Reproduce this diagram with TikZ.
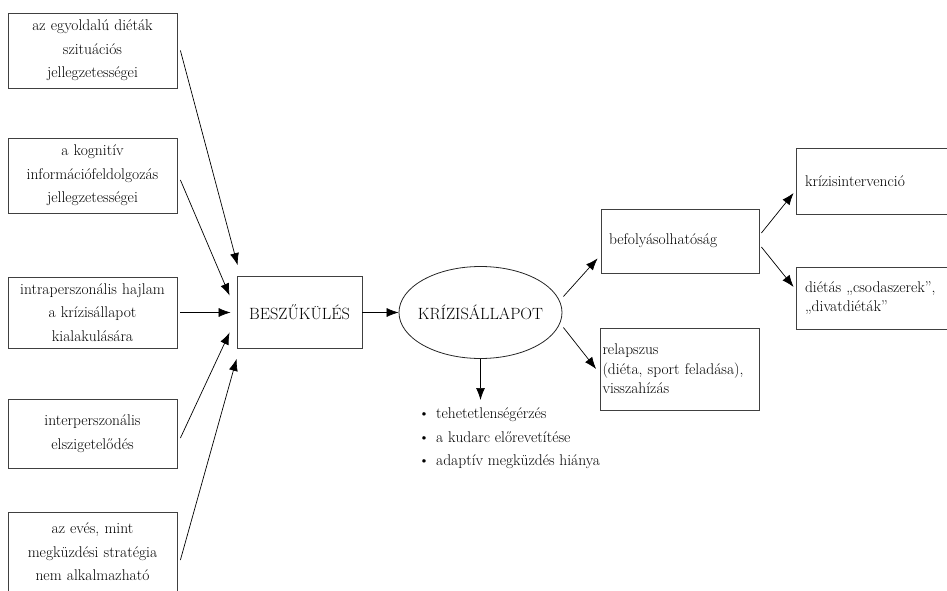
\documentclass[tikz,border=0pt]{standalone}
\usepackage{fontspec}
\usetikzlibrary{arrows.meta,shapes.geometric}
\begin{document}
\begin{tikzpicture}[x=1pt,y=-1pt,
 every node/.style={text=black},
 lbox/.style={draw=black!75, line width=0.8pt, align=center, text width=160pt, inner xsep=4.5pt, inner ysep=0pt, minimum width=169pt, font=\fontsize{15.5}{23.5}\selectfont},
 rbox/.style={draw=black!75, line width=0.8pt, align=left, inner ysep=0pt, font=\fontsize{15.5}{19.5}\selectfont},
 bigbox/.style={draw=black!75, line width=0.8pt, font=\fontsize{16.3}{20}\selectfont},
 bul/.style={anchor=base west, inner sep=0pt, font=\fontsize{15.5}{19.5}\selectfont},
 arr/.style={-{Latex[length=12pt,width=9pt]}, line width=0.7pt, black},
]
\useasboundingbox (0,0) rectangle (947,591);
\clip (0,0) rectangle (947,591);

\node[lbox, minimum height=75pt] (b1) at (92.5,50.5) {az egyoldalú diéták\\szituációs\\jellegzetességei};
\node[lbox, minimum height=75pt] (b2) at (92.5,175.5) {a kognitív\\információfeldolgozás\\jellegzetességei};
\node[lbox, minimum height=71pt] (b3) at (92.5,312.5) {intraperszonális hajlam\\a krízisállapot\\kialakulására};
\node[lbox, minimum height=69pt] (b4) at (92.5,433.5) {interperszonális\\elszigetelődés};
\node[lbox, minimum height=80pt] (b5) at (92.5,552) {az evés, mint\\megküzdési stratégia\\nem alkalmazható};

\node[bigbox, minimum width=125pt, minimum height=72pt] (besz) at (299.5,312.5) {BESZŰKÜLÉS};
\node[bigbox, ellipse, draw=black!85, minimum width=163pt, minimum height=92pt, inner sep=0pt] (ell) at (480.5,312.5) {\makebox[0pt][c]{KRÍZISÁLLAPOT}};

\node[rbox, text width=142pt, inner xsep=8pt, minimum height=64pt] (bef) at (680,241) {befolyásolhatóság};
\node[rbox, text width=155pt, inner xsep=2pt, minimum height=82pt] (rel) at (680,369) {relapszus\\(diéta, sport feladása),\\visszahízás};
\node[rbox, text width=150pt, inner xsep=9pt, minimum height=66pt] (kri) at (880,181) {krízisintervenció};
\node[rbox, text width=150pt, inner xsep=9pt, minimum height=62pt] (die) at (880,298) {diétás „csodaszerek”,\\„divatdiéták”};

\node[bul] (l1) at (419,418) {\makebox[17pt][l]{\raisebox{0.5pt}{\fontsize{13}{13}\selectfont\textbullet}}tehetetlenségérzés};
\node[bul] (l2) at (419,442) {\makebox[17pt][l]{\raisebox{0.5pt}{\fontsize{13}{13}\selectfont\textbullet}}a kudarc előrevetítése};
\node[bul] (l3) at (419,465) {\makebox[17pt][l]{\raisebox{0.5pt}{\fontsize{13}{13}\selectfont\textbullet}}adaptív megküzdés hiánya};

\draw[arr] ([xshift=3pt]b1.east) -- ([xshift=1pt,yshift=11pt]besz.north west);
\draw[arr] ([xshift=3pt,yshift=-4.5pt]b2.east) -- ([xshift=-7pt,yshift=17pt]besz.west);
\draw[arr, shorten <=3pt, shorten >=6pt] (b3.east) -- (b3.east -| besz.west);
\draw[arr] ([xshift=3pt,yshift=-4.5pt]b4.east) -- ([xshift=-7pt,yshift=-20pt]besz.west);
\draw[arr] ([xshift=3pt,yshift=-8pt]b5.east) -- ([yshift=-10pt]besz.south west);

\draw[arr] (besz.east) -- (ell.west);
\draw[arr] ([xshift=1pt,yshift=16pt]ell.east) -- ([xshift=-3pt,yshift=15pt]bef.south west);
\draw[arr] ([xshift=1pt,yshift=-15pt]ell.east) -- ([xshift=-4pt]rel.west);
\draw[arr, shorten >=7pt] (ell.south) -- (ell.south |- l1.north);

\draw[arr] ([xshift=2pt,yshift=8pt]bef.east) -- ([xshift=-2pt,yshift=-12pt]kri.west);
\draw[arr] ([xshift=2pt,yshift=-6pt]bef.east) -- ([xshift=-2pt,yshift=11pt]die.west);
\end{tikzpicture}
\end{document}
